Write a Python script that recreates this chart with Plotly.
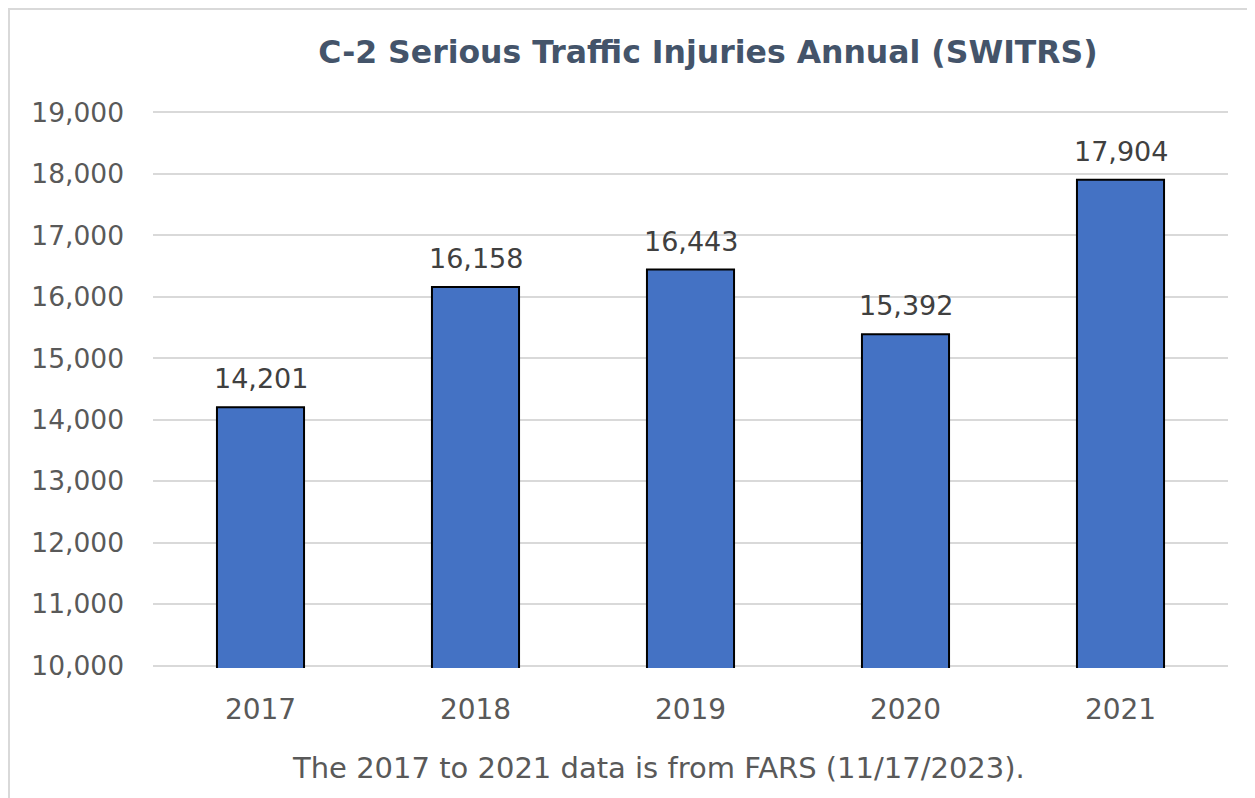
import plotly.graph_objects as go

years = ["2017", "2018", "2019", "2020", "2021"]
injuries = [14201, 16158, 16443, 15392, 17904]
y_ticks = [10000, 11000, 12000, 13000, 14000, 15000, 16000, 17000, 18000, 19000]

# page has an 8px body margin; figure coordinates = screenshot coordinates - 8
W, H = 1247, 790
L, R, T, B = 145, 27, 102, 130
pw, ph = W - L - R, H - T - B

def px(x):
    return (x - L) / pw

def py(y):
    return (H - B - y) / ph

font_main = "DejaVu Sans"

fig = go.Figure()
fig.add_trace(go.Bar(
    x=years, y=injuries,
    marker=dict(color="#4472C4", line=dict(color="black", width=2)),
    width=0.405,
))

annotations = [
    dict(text=f"{v:,}", x=i, y=v, xref="x", yref="y",
         xanchor="center", yanchor="bottom", yshift=11, showarrow=False,
         font=dict(family=font_main, size=27, color="#404040"))
    for i, v in enumerate(injuries)
]
annotations.append(
    dict(text="The 2017 to 2021 data is from FARS (11/17/2023).",
         xref="paper", yref="paper", x=px(650), y=py(760),
         xanchor="center", yanchor="middle", showarrow=False,
         font=dict(family=font_main, size=29, color="#595959"))
)

fig.update_layout(
    width=W, height=H,
    margin=dict(l=L, r=R, t=T, b=B),
    paper_bgcolor="white", plot_bgcolor="white",
    showlegend=False,
    title=dict(text="<b>C-2 Serious Traffic Injuries Annual (SWITRS)</b>",
               xref="container", x=700 / W, xanchor="center",
               yref="container", y=1 - 44 / H, yanchor="middle",
               font=dict(family=font_main, size=31.5, color="#44546A")),
    xaxis=dict(type="category", range=[-0.5, 4.5],
               showline=False, showgrid=False, ticks="",
               ticklabelstandoff=22,
               tickfont=dict(family=font_main, size=28, color="#595959")),
    yaxis=dict(range=[9960, 19040], tickvals=y_ticks,
               ticktext=[f"{v:,}" for v in y_ticks],
               showgrid=True, gridcolor="#D9D9D9", gridwidth=1.5,
               zeroline=False, showline=False, ticks="",
               ticklabelstandoff=28,
               tickfont=dict(family=font_main, size=26.5, color="#595959")),
    annotations=annotations,
    shapes=[
        dict(type="rect", xref="paper", yref="paper",
             x0=px(1), x1=px(1300), y0=py(900), y1=py(1),
             line=dict(color="#D9D9D9", width=2), fillcolor="rgba(0,0,0,0)",
             layer="below"),
    ],
)

fig.write_html("out.html")
